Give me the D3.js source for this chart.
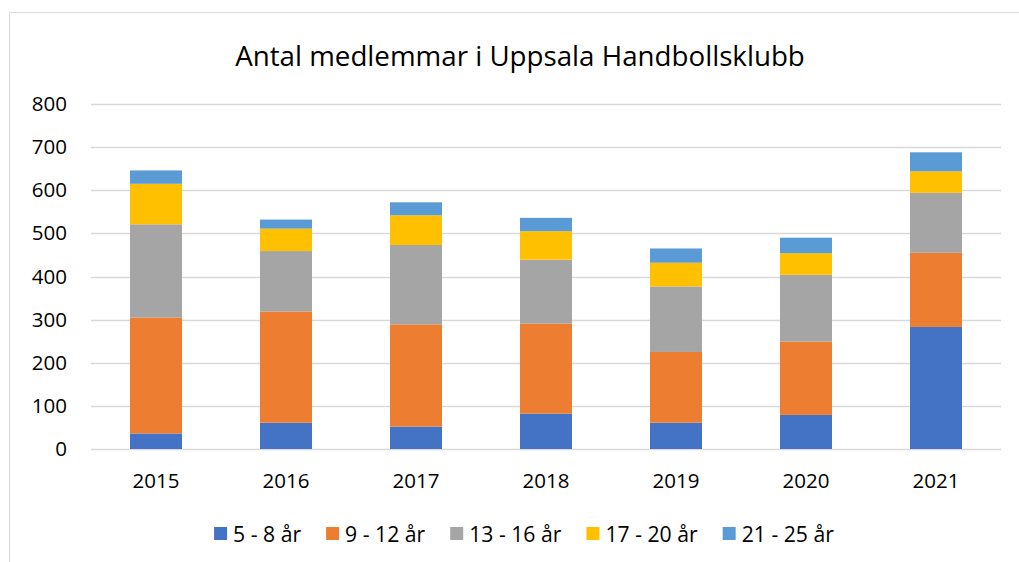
<!DOCTYPE html>
<html>
<head>
<meta charset="utf-8">
<script src="https://cdn.jsdelivr.net/npm/d3@7"></script>
<style>
  body { margin: 0; background: #fff; }
  svg { display: block; font-family: "Open Sans", sans-serif; }
</style>
</head>
<body>
<div id="chart"></div>
<script>
"use strict";

// data
const years = ["2015", "2016", "2017", "2018", "2019", "2020", "2021"];
const seriesNames = ["5 - 8 år", "9 - 12 år", "13 - 16 år", "17 - 20 år", "21 - 25 år"];
const age5to8   = [36, 61, 52, 82, 61, 79, 283];
const age9to12  = [269, 258, 237, 209, 164, 170, 172];
const age13to16 = [216, 140, 184, 148, 152, 155, 139];
const age17to20 = [94, 52, 69, 66, 55, 50, 50];
const age21to25 = [31, 21, 30, 31, 33, 36, 44];
const yTicks = [0, 100, 200, 300, 400, 500, 600, 700, 800];
const colors = ["#4472C4", "#ED7D31", "#A5A5A5", "#FFC000", "#5B9BD5"];

const width = 1019, height = 562;
const margin = { left: 91, top: 104, right: 18, bottom: 113 },
      w = width - margin.left - margin.right,
      h = height - margin.top - margin.bottom;

const svg = d3.select("#chart")
  .append("svg")
    .attr("width", width)
    .attr("height", height);

// outer chart border (only left and top visible in the reference)
svg.append("path")
  .attr("d", "M9.5," + height + "V12.5H" + width)
  .attr("fill", "none")
  .attr("stroke", "#d9d9d9")
  .attr("stroke-width", 1);

// build table for stacking
const allSeries = [age5to8, age9to12, age13to16, age17to20, age21to25];
const table = years.map(function(yr, i) {
  const row = { year: yr };
  seriesNames.forEach(function(s, j) { row[s] = allSeries[j][i]; });
  return row;
});
const stacked = d3.stack().keys(seriesNames)(table);

const x = d3.scaleBand().domain(years).range([0, w]).paddingInner(0.6).paddingOuter(0.3),
      y = d3.scaleLinear().domain([0, 800]).range([h, 0]);

const chart = svg.append("g")
  .attr("transform", "translate(" + margin.left + "," + margin.top + ")");

// gridlines
chart.append("g")
  .selectAll("line")
  .data(yTicks)
  .join("line")
    .attr("x1", 0)
    .attr("x2", w)
    .attr("y1", function(d) { return Math.round(y(d)) + 0.5; })
    .attr("y2", function(d) { return Math.round(y(d)) + 0.5; })
    .attr("stroke", "#d9d9d9")
    .attr("stroke-width", 1.5);

// bars
chart.append("g")
  .selectAll("g")
  .data(stacked)
  .join("g")
    .attr("fill", function(d, i) { return colors[i]; })
  .selectAll("rect")
  .data(function(d) { return d; })
  .join("rect")
    .attr("x", function(d) { return x(d.data.year); })
    .attr("width", x.bandwidth())
    .attr("y", function(d) { return y(d[1]); })
    .attr("height", function(d) { return y(d[0]) - y(d[1]); });

// y axis labels
const yAxis = chart.append("g")
  .call(d3.axisLeft(y).tickValues(yTicks).tickSize(0).tickPadding(24));
yAxis.select(".domain").remove();
yAxis.selectAll("text")
  .attr("font-family", "Open Sans, sans-serif")
  .attr("font-size", 20.5)
  .attr("fill", "#000");

// x axis labels
const xAxis = chart.append("g")
  .attr("transform", "translate(0," + h + ")")
  .call(d3.axisBottom(x).tickSize(0).tickPadding(24));
xAxis.select(".domain").remove();
xAxis.selectAll("text")
  .attr("font-family", "Open Sans, sans-serif")
  .attr("font-size", 20.5)
  .attr("fill", "#000");

// title
const title = svg.append("text")
  .attr("x", 520)
  .attr("y", 66)
  .attr("text-anchor", "middle")
  .attr("font-size", 26)
  .attr("fill", "#000")
  .text("Antal medlemmar i Uppsala Handbollsklubb");
const tw = title.node().getComputedTextLength();
title.attr("font-size", 26 * 570 / tw);

// legend, sized so it spans roughly 213..835 like the reference
const legend = svg.append("g");
const legendFont = 21.2;
let lx = 0;
seriesNames.forEach(function(s, i) {
  const item = legend.append("g").attr("transform", "translate(" + lx + ",0)");
  item.append("rect")
    .attr("x", 0).attr("y", -7)
    .attr("width", 13).attr("height", 13)
    .attr("fill", colors[i]);
  const t = item.append("text")
    .attr("x", 19)
    .attr("y", 8)
    .attr("font-size", legendFont)
    .attr("fill", "#000")
    .text(s);
  lx += 19 + t.node().getComputedTextLength() + 25;
});
lx -= 25;
legend.attr("transform", "translate(" + (524 - lx / 2) + ",534)");
</script>
</body>
</html>
